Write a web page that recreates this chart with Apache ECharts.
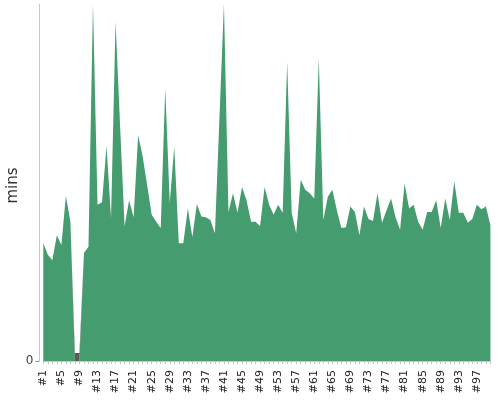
<!DOCTYPE html>
<html>
<head>
<meta charset="utf-8">
<script src="https://cdn.jsdelivr.net/npm/echarts@6/dist/echarts.min.js"></script>
<style>html,body{margin:0;padding:0;background:#fff}#c{width:500px;height:400px}</style>
</head>
<body>
<div id="c"></div>
<script>
// Build numbers #1 .. #100
const builds = [];
for (let i = 1; i <= 100; i++) builds.push('#' + i);

// Duration in minutes for successful builds (0 where build was aborted)
const successMins = [
  13.2, 11.9, 11.3, 14.1, 13.0, 18.5, 15.6, 0, 0, 12.1,
  12.8, 40.0, 17.5, 17.8, 24.1, 16.0, 38.0, 26.4, 15.1, 18.0,
  16.1, 25.3, 22.9, 19.7, 16.4, 15.6, 14.9, 30.6, 17.7, 24.0,
  13.2, 13.2, 17.1, 13.9, 17.6, 16.2, 16.1, 15.8, 14.3, 27.2,
  40.0, 16.7, 18.8, 16.6, 19.5, 18.0, 15.6, 15.6, 15.1, 19.5,
  17.5, 16.4, 17.5, 16.6, 33.5, 16.6, 14.3, 20.3, 19.2, 18.8,
  18.2, 33.9, 15.8, 18.4, 19.2, 16.9, 14.9, 15.0, 17.3, 16.7,
  14.1, 17.3, 15.9, 15.7, 18.8, 15.5, 16.9, 18.2, 16.1, 14.7,
  19.9, 17.1, 17.5, 15.6, 14.7, 16.7, 16.7, 18.0, 14.9, 18.2,
  15.8, 20.1, 16.6, 16.6, 15.5, 15.9, 17.5, 17.0, 17.3, 15.2
];

// Duration in minutes for aborted builds (0 elsewhere)
const abortedMins = builds.map(() => 0);
abortedMins[7] = 0.9;
abortedMins[8] = 0.9;

const yMax = 40;

const chart = echarts.init(document.getElementById('c'), null, {renderer: 'canvas'});
chart.setOption({
  animation: false,
  backgroundColor: '#fff',
  grid: {left: 43.3, right: 9.6, top: 4, bottom: 39, containLabel: false, outerBoundsMode: 'none'},
  xAxis: {
    type: 'category',
    data: builds,
    boundaryGap: false,
    offset: 4,
    axisLine: {show: true, lineStyle: {color: '#c8c8c8', width: 1}},
    axisTick: {show: true, interval: 0, length: 3, lineStyle: {color: '#c8c8c8'}},
    axisLabel: {interval: 3, rotate: 90, margin: 5, fontSize: 11, color: '#222', fontFamily: 'DejaVu Sans'},
    splitLine: {show: false}
  },
  yAxis: {
    type: 'value',
    min: 0,
    max: yMax,
    offset: 4,
    name: 'mins',
    nameLocation: 'middle',
    nameGap: 19,
    nameMoveOverlap: false,
    nameTextStyle: {fontSize: 15, color: '#333', fontFamily: 'DejaVu Sans', padding: [0, 6, 0, 0]},
    axisLine: {show: true, lineStyle: {color: '#c8c8c8', width: 1}},
    axisTick: {show: true, length: 4, customValues: [0], lineStyle: {color: '#999'}},
    axisLabel: {customValues: [0], fontSize: 12, color: '#444', margin: 6, fontFamily: 'DejaVu Sans'},
    splitLine: {show: false}
  },
  series: [
    {
      name: 'Success',
      type: 'line',
      stack: 'duration',
      data: successMins,
      showSymbol: false,
      symbol: 'none',
      lineStyle: {width: 0},
      areaStyle: {color: '#459c6e', opacity: 1},
      itemStyle: {color: '#459c6e'}
    },
    {
      name: 'Aborted',
      type: 'line',
      stack: 'duration',
      data: abortedMins,
      showSymbol: false,
      symbol: 'none',
      lineStyle: {width: 0},
      areaStyle: {color: '#5a5a5a', opacity: 1},
      itemStyle: {color: '#5a5a5a'}
    }
  ]
});
</script>
</body>
</html>
